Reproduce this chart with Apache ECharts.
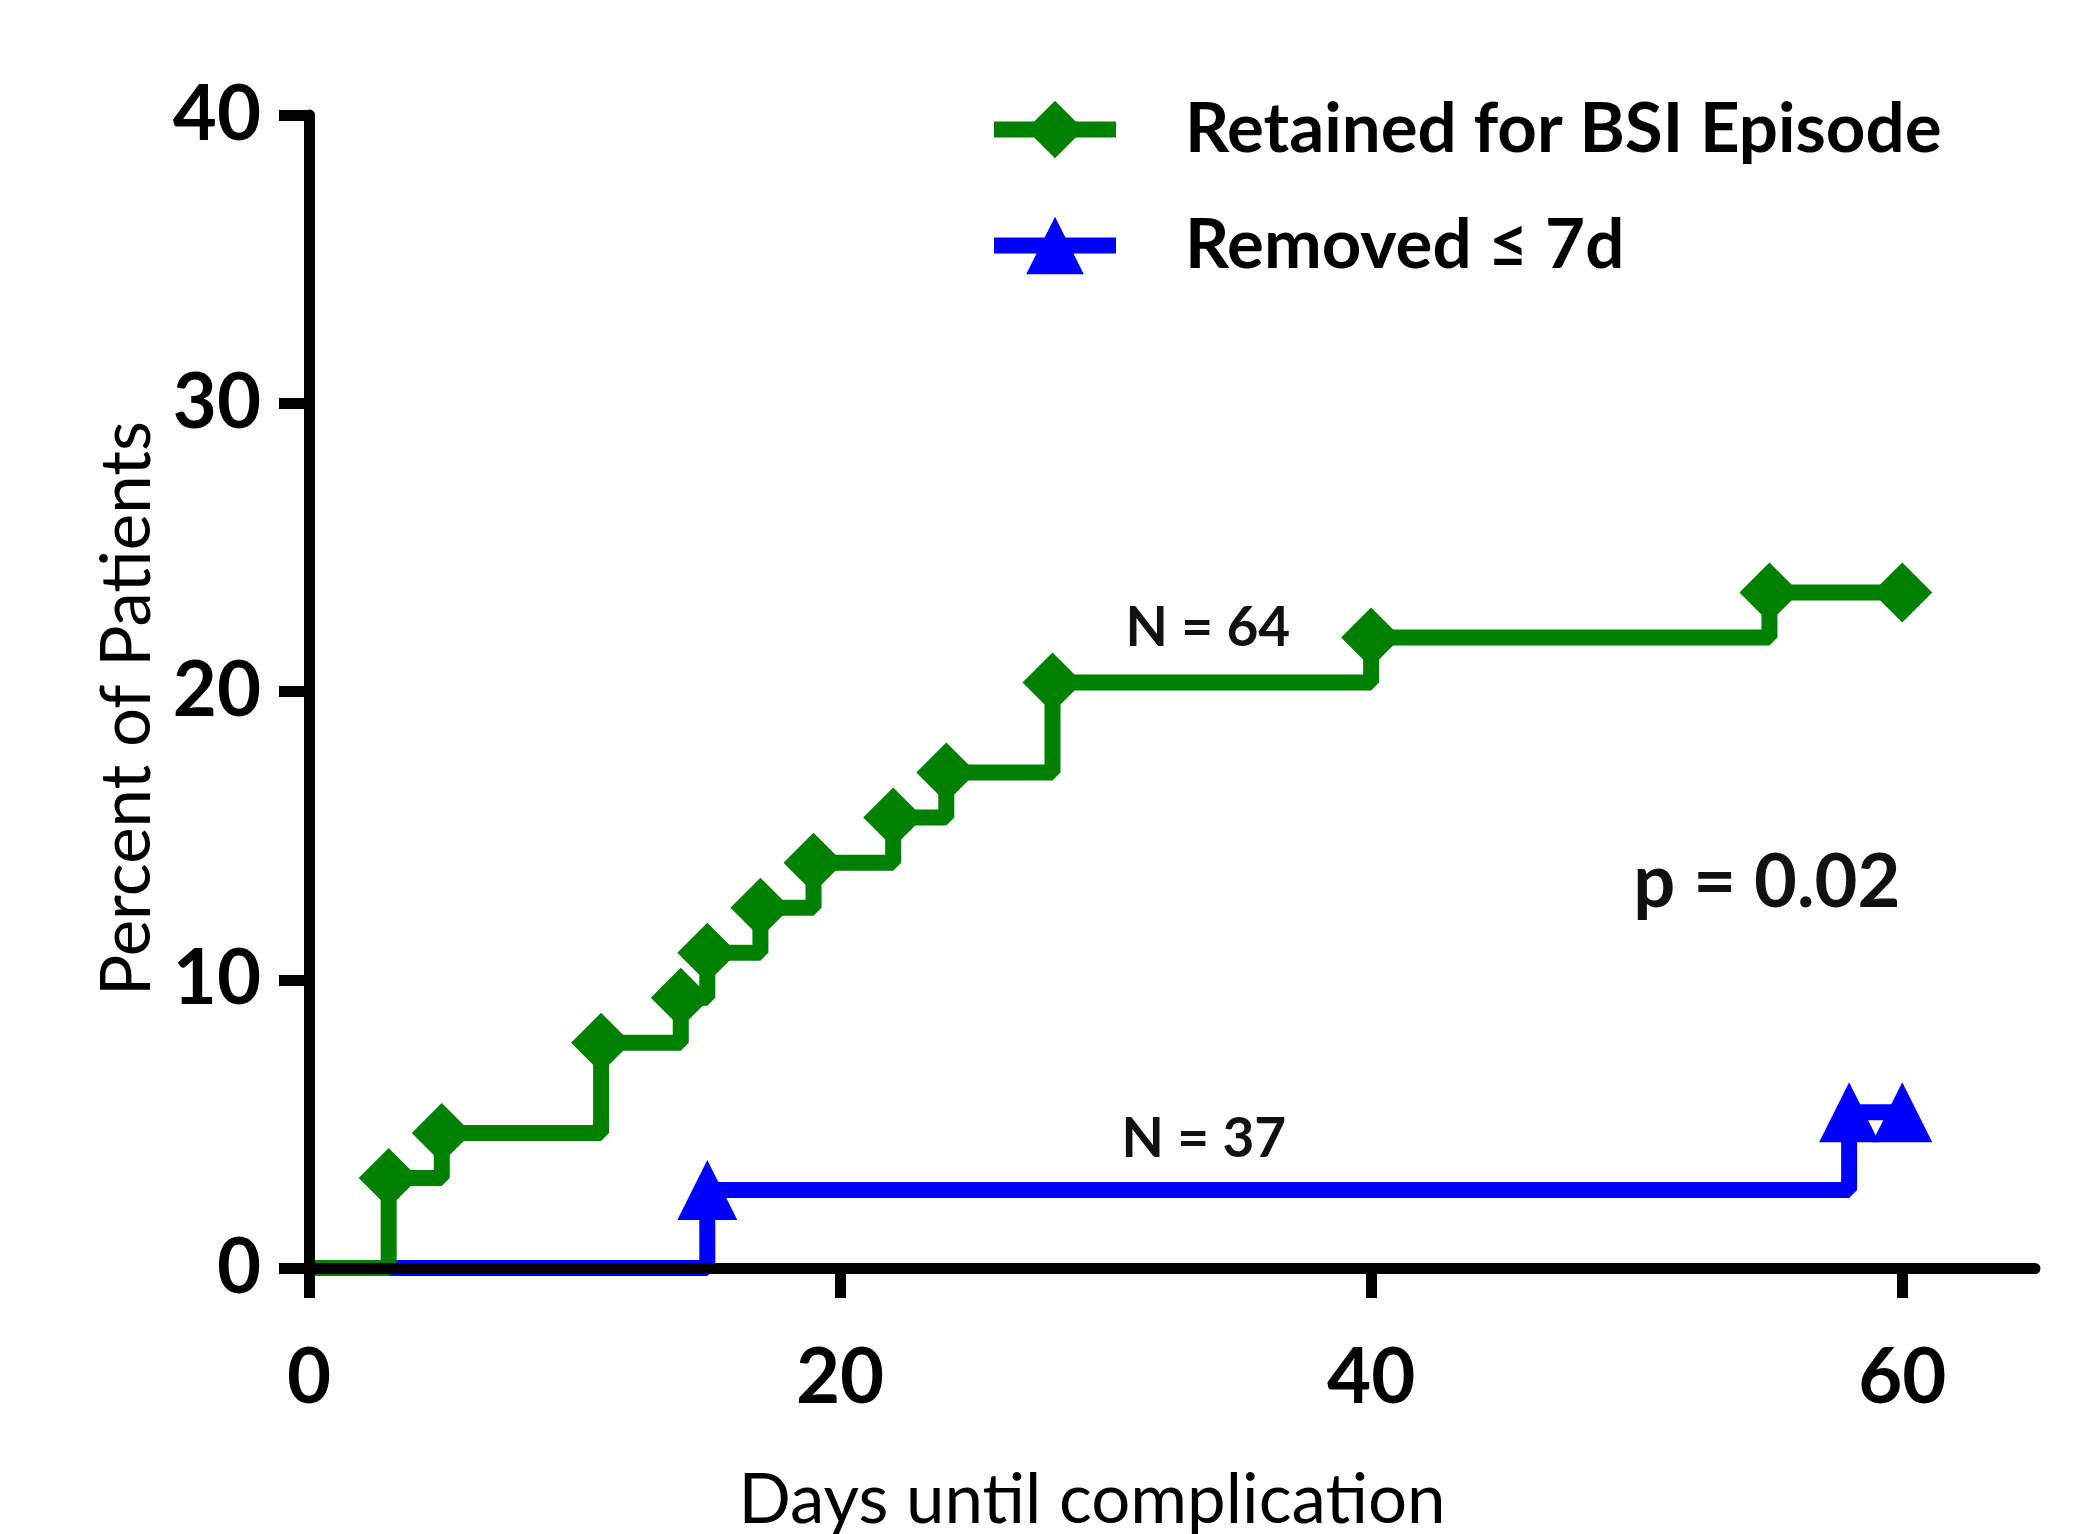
<!DOCTYPE html>
<html><head><meta charset="utf-8">
<script src="https://cdn.jsdelivr.net/npm/echarts@6/dist/echarts.min.js"></script>
<style>html,body{margin:0;padding:0;background:#fff}#c{width:2085px;height:1534px}</style>
</head><body><div id="c"></div>
<script>
const seriesNames = ['Retained for BSI Episode', 'Removed \u2264 7d'];
const retainedDays = [0, 3, 5, 11, 14, 15, 17, 19, 22, 24, 28, 40, 55, 60];
const retainedPct = [0, 3.125, 4.6875, 7.8125, 9.375, 10.9375, 12.5, 14.0625, 15.625, 17.1875, 20.3125, 21.875, 23.4375, 23.4375];
const removedDays = [0, 15, 58, 60];
const removedPct = [0, 2.7027, 5.4054, 5.4054];
const xTickValues = [0, 20, 40, 60];
const yTickValues = [0, 10, 20, 30, 40];
const annotationTexts = ['N = 64', 'N = 37', 'p = 0.02'];
const annotationX = [33.85, 33.7, 54.9];
const annotationY = [22.2, 4.45, 13.35];
const xTitle = 'Days until complication';
const yTitle = 'Percent of Patients';

function toPoints(xs, ys) {
  return xs.map((x, i) => i === 0 ? { value: [x, ys[i]], symbol: 'none' } : [x, ys[i]]);
}

const chart = echarts.init(document.getElementById('c'), null, { renderer: 'canvas' });
const FONT = 'Lato';
const axisCommon = {
  z: 10,
  axisLine: { lineStyle: { color: '#000', width: 11 } },
  axisTick: { inside: false, length: 30, lineStyle: { color: '#000', width: 11 } },
  splitLine: { show: false },
  axisLabel: { color: '#000', fontFamily: FONT, fontWeight: 'bold', fontSize: 76 }
};
chart.setOption({
  animation: false,
  backgroundColor: '#fff',
  grid: { left: 309, right: 50, top: 115, bottom: 266, containLabel: false, outerBoundsMode: 'none' },
  legend: {
    orient: 'vertical', left: 986, top: 95, padding: 0,
    itemWidth: 122, itemHeight: 72, itemGap: 47,
    lineStyle: { width: 16 },
    textStyle: { fontFamily: FONT, fontWeight: 'bold', fontSize: 69, color: '#000', padding: [0, 0, 0, 64] },
    data: seriesNames
  },
  xAxis: Object.assign({}, axisCommon, {
    type: 'value', min: 0, max: 65, interval: 20,
    axisTick: Object.assign({}, axisCommon.axisTick, { customValues: xTickValues }),
    axisLabel: Object.assign({}, axisCommon.axisLabel, { customValues: xTickValues, margin: 72 }),
    name: xTitle, nameLocation: 'middle', nameGap: 198,
    nameTextStyle: { fontFamily: FONT, fontSize: 69, color: '#000', padding: [0, 160, 0, 0] }
  }),
  yAxis: Object.assign({}, axisCommon, {
    type: 'value', min: 0, max: 40, interval: 10,
    axisTick: Object.assign({}, axisCommon.axisTick, { customValues: yTickValues }),
    axisLabel: Object.assign({}, axisCommon.axisLabel, { customValues: yTickValues, margin: 48 }),
    name: yTitle, nameLocation: 'middle', nameGap: 139,
    nameTextStyle: { fontFamily: FONT, fontSize: 69, color: '#000', padding: [0, 34, 0, 0] }
  }),
  series: [
    {
      name: seriesNames[1], type: 'line', step: 'end', z: 2,
      data: toPoints(removedDays, removedPct),
      symbol: 'triangle', symbolSize: 60, showAllSymbol: true,
      lineStyle: { color: '#0000ff', width: 16 },
      itemStyle: { color: '#0000ff' }
    },
    {
      name: seriesNames[0], type: 'line', step: 'end', z: 3,
      data: toPoints(retainedDays, retainedPct),
      symbol: 'diamond', symbolSize: 60, showAllSymbol: true,
      lineStyle: { color: '#008000', width: 16 },
      itemStyle: { color: '#008000' }
    }
  ]
});

const sizes = [55, 55, 74];
const graphics = annotationTexts.map((t, i) => {
  const p = chart.convertToPixel({ gridIndex: 0 }, [annotationX[i], annotationY[i]]);
  return {
    type: 'text', x: p[0], y: p[1], z: 20,
    style: { text: t, fontFamily: FONT, fontWeight: 'bold', fontSize: sizes[i], fill: '#111', align: 'center', verticalAlign: 'middle' }
  };
});
chart.setOption({ graphic: graphics });
</script>
</body></html>
